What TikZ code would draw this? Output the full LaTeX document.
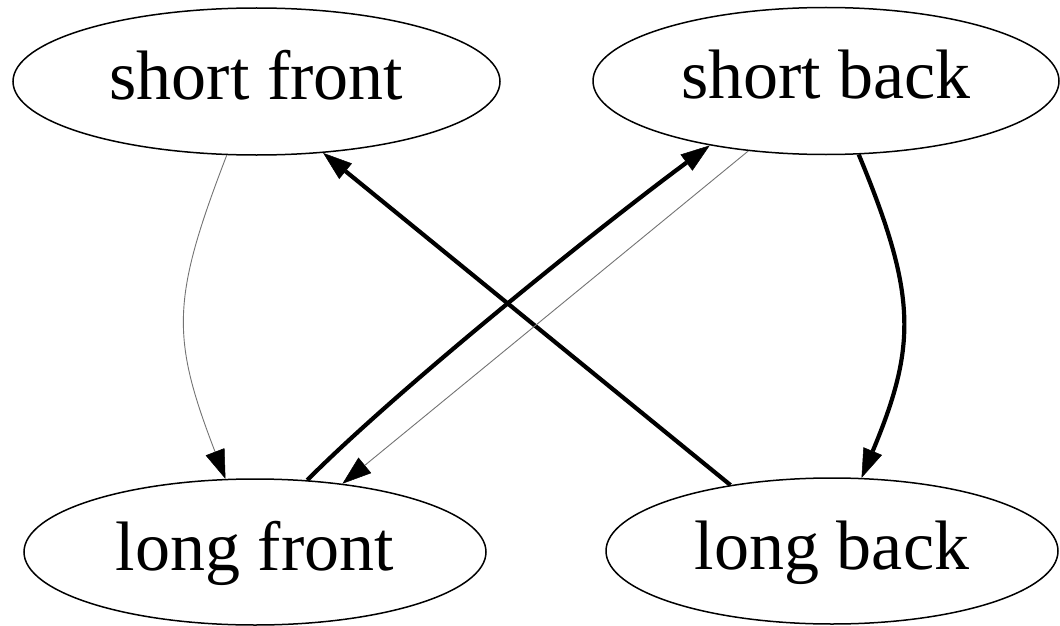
\documentclass[tikz,border=0pt]{standalone}
\usepackage{fontspec}
\setmainfont{Liberation Serif}
\usetikzlibrary{shapes.geometric,arrows.meta}
\begin{document}
\begin{tikzpicture}[x=1pt,y=-1pt,
  state/.style={draw=black, line width=1.5pt, ellipse, inner sep=0pt,
    text height=36pt, text depth=0pt,
    font=\fontsize{70}{80}\selectfont},
  thinedge/.style={draw=black!55, line width=0.9pt,
    -{Triangle[length=29pt,width=20pt,line width=0.5pt,black]}},
  thickedge/.style={draw=black, line width=4.2pt,
    -{Triangle[length=29pt,width=20pt,line width=0.5pt]}}]
\useasboundingbox (0,0) rectangle (1060,626);
\node[state, minimum width=487pt, minimum height=147pt] (sf) at (256.5,81.5) {short front};
\node[state, minimum width=466pt, minimum height=147pt] (sb) at (826,81) {short back};
\node[state, minimum width=462pt, minimum height=146pt] (lf) at (255,552) {long front};
\node[state, minimum width=452pt, minimum height=146pt] (lb) at (832,551) {long back};
% short front -> long front
\draw[thinedge] (sf.-112) .. controls (171,300) and (171,337) .. (lf.112);
% long back -> short front
\draw[thickedge] (lb.147.4) -- (sf.-47.1);
% long front -> short back
\draw[thickedge] (lf.54) .. controls (401,386) and (602,225) .. (sb.-151.1);
% short back -> long front
\draw[thinedge] (sb.-138.1) -- (lf.38.6);
% short back -> long back
\draw[thickedge] (sb.-66) .. controls (917,295) and (917,345) .. (lb.68.2);
\end{tikzpicture}
\end{document}
